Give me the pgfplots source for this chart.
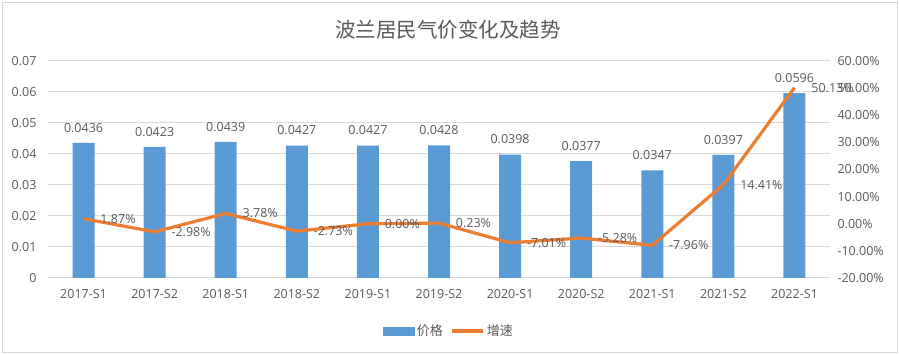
\documentclass[border=0pt]{standalone}
\usepackage{fontspec}
\setmainfont{Open Sans}
\newfontfamily\cjk{Noto Sans CJK SC}
\usepackage{pgfplots}
\pgfplotsset{compat=1.18}
\definecolor{barblue}{HTML}{5B9BD5}
\definecolor{lineorange}{HTML}{ED7D31}
\definecolor{txt}{HTML}{595959}
\definecolor{gridc}{HTML}{D9D9D9}
\begin{document}
\begin{tikzpicture}[x=1pt,y=1pt]
\path[use as bounding box] (0,0) rectangle (900,355);
\draw[color=gridc, line width=1pt] (2,2) rectangle (897,352);
\node[font=\cjk\fontsize{20.5}{24}\selectfont, text=txt] at (448,325) {波兰居民气价变化及趋势};
\begin{axis}[
  at={(48pt,77pt)}, anchor=south west, scale only axis,
  width=782pt, height=217pt,
  xmin=-0.5, xmax=10.5, ymin=0, ymax=0.07,
  scaled y ticks=false,
  xtick={0,...,10},
  xticklabels={2017-S1,2017-S2,2018-S1,2018-S2,2019-S1,2019-S2,2020-S1,2020-S2,2021-S1,2021-S2,2022-S1},
  ytick={0,0.01,0.02,0.03,0.04,0.05,0.06,0.07},
  yticklabels={0,0.01,0.02,0.03,0.04,0.05,0.06,0.07},
  axis line style={draw=none},
  major tick length=0pt,
  ymajorgrids, grid style={color=gridc, line width=1pt},
  ticklabel style={font=\fontsize{12.5}{15}\selectfont, text=txt},
  yticklabel style={xshift=-8pt},
  xticklabel style={yshift=-8pt},
  /pgf/number format/assume math mode=true,
  clip=false,
]
\addplot[ybar, bar width=22pt, fill=barblue, draw=none,
  nodes near coords={\pgfmathprintnumber[fixed,fixed zerofill,precision=4]{\pgfplotspointmeta}},
  every node near coord/.append style={font=\fontsize{12.5}{15}\selectfont, text=txt, anchor=south, yshift=7pt}]
coordinates {(0,0.0436) (1,0.0423) (2,0.0439) (3,0.0427) (4,0.0427) (5,0.0428) (6,0.0398) (7,0.0377) (8,0.0347) (9,0.0397) (10,0.0596)};
\end{axis}
\begin{axis}[
  at={(48pt,77pt)}, anchor=south west, scale only axis,
  width=782pt, height=217pt,
  xmin=-0.5, xmax=10.5, ymin=-20, ymax=60,
  axis x line=none, axis y line*=right,
  axis line style={draw=none},
  major tick length=0pt,
  ytick={-20,-10,0,10,20,30,40,50,60},
  yticklabels={-20.00\%,-10.00\%,0.00\%,10.00\%,20.00\%,30.00\%,40.00\%,50.00\%,60.00\%},
  ticklabel style={font=\fontsize{12.5}{15}\selectfont, text=txt},
  yticklabel style={xshift=4pt},
  /pgf/number format/assume math mode=true,
  clip=false,
  legend style={at={(0.513,-0.244)}, anchor=center, draw=none, fill=none,
    legend columns=2, font=\cjk\fontsize{13}{15}\selectfont, text=txt,
    /tikz/every even column/.append style={column sep=6pt}},
]
\addlegendimage{legend image code/.code={\fill[barblue] (0pt,-4pt) rectangle (31pt,4pt);}}
\addlegendentry{价格}
\addplot[lineorange, line width=3.2pt, mark=none,
  legend image code/.code={\draw[lineorange,line width=3.2pt] (0pt,0pt) -- (31pt,0pt);},
  nodes near coords={\pgfmathprintnumber[fixed,fixed zerofill,precision=2]{\pgfplotspointmeta}\%},
  every node near coord/.append style={font=\fontsize{12.5}{15}\selectfont, text=txt, anchor=west, xshift=12pt}]
coordinates {(0,1.87) (1,-2.98) (2,3.78) (3,-2.73) (4,0.00) (5,0.23) (6,-7.01) (7,-5.28) (8,-7.96) (9,14.41) (10,50.13)};
\addlegendentry{增速}
\end{axis}
\end{tikzpicture}
\end{document}
